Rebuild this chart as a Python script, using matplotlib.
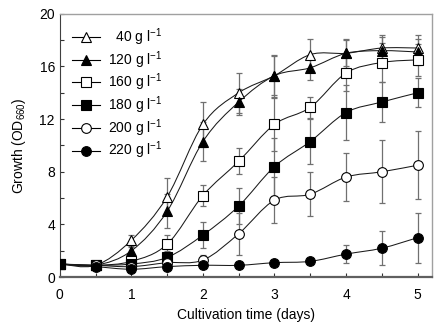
import matplotlib
matplotlib.use("Agg")
import matplotlib.pyplot as plt
from matplotlib.path import Path
from matplotlib.patches import PathPatch
import numpy as np

plt.rcParams["font.family"] = ["Liberation Sans", "DejaVu Sans"]
plt.rcParams["mathtext.fontset"] = "custom"
plt.rcParams["mathtext.rm"] = "Liberation Sans"
plt.rcParams["mathtext.it"] = "Liberation Sans"

# ---------------- Data ----------------
days = [0, 0.5, 1, 1.5, 2, 2.5, 3, 3.5, 4, 4.5, 5]

g40 = [1.0, 0.9, 2.8, 6.1, 11.6, 14.0, 15.3, 16.9, 17.0, 17.4, 17.4]
g120 = [1.0, 0.9, 2.0, 5.0, 10.3, 13.3, 15.3, 15.9, 17.0, 17.2, 17.1]
g160 = [1.0, 0.9, 1.2, 2.5, 6.2, 8.8, 11.6, 12.9, 15.5, 16.3, 16.5]
g180 = [1.0, 0.9, 1.0, 1.5, 3.2, 5.4, 8.4, 10.3, 12.5, 13.3, 14.0]
g200 = [1.0, 0.9, 0.8, 1.1, 1.3, 3.3, 5.85, 6.3, 7.6, 8.0, 8.5]
g220 = [1.0, 0.8, 0.6, 0.8, 0.9, 0.9, 1.1, 1.2, 1.75, 2.2, 3.0]

err40 = [0.1, 0.2, 0.4, 1.4, 1.7, 1.5, 1.6, 1.2, 1.1, 1.0, 1.0]
err120 = [0.1, 0.2, 0.3, 1.3, 1.5, 1.0, 1.5, 0.9, 1.0, 1.0, 1.0]
err160 = [0.1, 0.2, 0.3, 0.7, 0.8, 1.0, 2.0, 0.8, 1.4, 1.5, 1.2]
err180 = [0.1, 0.2, 0.3, 0.5, 1.0, 1.4, 2.2, 1.7, 2.1, 1.5, 1.1]
err200 = [0.1, 0.1, 0.2, 0.3, 0.4, 1.6, 1.75, 1.65, 1.8, 2.4, 2.6]
err220 = [0.1, 0.1, 0.1, 0.2, 0.2, 0.2, 0.2, 0.2, 0.7, 1.3, 1.9]

labels = [r"  40 g l$^{-1}$", r"120 g l$^{-1}$", r"160 g l$^{-1}$",
          r"180 g l$^{-1}$", r"200 g l$^{-1}$", r"220 g l$^{-1}$"]
series = [g40, g120, g160, g180, g200, g220]
errors = [err40, err120, err160, err180, err200, err220]
markers = ["^", "^", "s", "s", "o", "o"]
faces = ["white", "black", "white", "black", "white", "black"]


def smooth_path(x, y):
    # Excel-like smoothed line: cubic Bezier segments through the points
    x = np.asarray(x, float)
    y = np.asarray(y, float)
    verts = [(x[0], y[0])]
    codes = [Path.MOVETO]
    n = len(x)
    for i in range(n - 1):
        x0, y0 = (x[i - 1], y[i - 1]) if i > 0 else (x[i], y[i])
        x3, y3 = (x[i + 2], y[i + 2]) if i + 2 < n else (x[i + 1], y[i + 1])
        c1 = (x[i] + (x[i + 1] - x0) / 6, y[i] + (y[i + 1] - y0) / 6)
        c2 = (x[i + 1] - (x3 - x[i]) / 6, y[i + 1] - (y3 - y[i]) / 6)
        verts += [c1, c2, (x[i + 1], y[i + 1])]
        codes += [Path.CURVE4] * 3
    return Path(verts, codes)


# ---------------- Chart ----------------
fig = plt.figure(figsize=(4.43, 3.28), dpi=100)
ax = fig.add_axes([0.135, 0.155, 0.84, 0.803])

for y, e in zip(series, errors):
    ax.errorbar(days, y, yerr=e, fmt="none", ecolor="#707070",
                elinewidth=0.9, capsize=2.5, capthick=0.9, zorder=1)

for y in series:
    ax.add_patch(PathPatch(smooth_path(days, y), facecolor="none",
                           edgecolor="#1a1a1a", lw=0.75, zorder=2))

for y, m, fc, lab in zip(series, markers, faces, labels):
    ax.plot(days, y, linestyle="none", marker=m, markersize=7,
            markerfacecolor=fc, markeredgecolor="black",
            markeredgewidth=0.8, zorder=3)
    ax.plot([], [], color="black", lw=0.8, marker=m, markersize=7,
            markerfacecolor=fc, markeredgecolor="black",
            markeredgewidth=0.8, label=lab)

ax.set_xlim(0, 5.2)
ax.set_ylim(0, 20)
ax.set_xticks([0, 1, 2, 3, 4, 5])
ax.set_xticks(np.arange(0.5, 5.0, 1.0), minor=True)
ax.set_yticks([0, 4, 8, 12, 16, 20])
ax.set_yticks([2, 6, 10, 14, 18], minor=True)
ax.tick_params(which="both", direction="in", labelsize=10, colors="#333333",
               labelcolor="black", length=3, width=0.8)
ax.tick_params(axis="x", pad=8)

for side in ["top", "right"]:
    ax.spines[side].set_color("#a0a0a0")
    ax.spines[side].set_linewidth(1.0)
ax.spines["left"].set_color("#404040")
ax.spines["bottom"].set_color("#606060")
ax.spines["bottom"].set_linewidth(1.6)

ax.set_xlabel("Cultivation time (days)", fontsize=10, labelpad=4)
ax.set_ylabel(r"Growth (OD$_{660}$)", fontsize=10, labelpad=8)

ax.legend(loc="upper left", frameon=False, fontsize=10,
          bbox_to_anchor=(0.0, 1.0), handlelength=2.0, labelspacing=0.08,
          borderaxespad=0.5, handletextpad=0.6)

fig.savefig("out.png", dpi=100)
